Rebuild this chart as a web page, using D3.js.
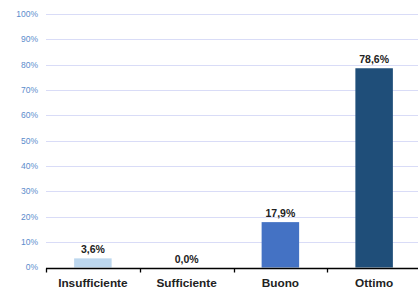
<!DOCTYPE html>
<html>
<head>
<meta charset="utf-8">
<script src="https://cdn.jsdelivr.net/npm/d3@7"></script>
<style>
  body { margin: 0; background: #fff; }
  svg { display: block; font-family: "Liberation Sans", Arial, sans-serif; }
</style>
</head>
<body>
<div class="container"></div>
<script>
let categories = ['Insufficiente', 'Sufficiente', 'Buono', 'Ottimo'];
let values = [3.6, 0.0, 17.9, 78.6];
let barColors = ['#bdd7ee', '#bdd7ee', '#4472c4', '#1f4e79'];
let yTicks = [0, 10, 20, 30, 40, 50, 60, 70, 80, 90, 100];

let margin = { top: 14, right: 0, bottom: 21, left: 46 };
let width = 421 - margin.left - margin.right;
let height = 289 - margin.top - margin.bottom;

let svg = d3
  .select('.container')
  .append('svg')
  .attr('width', 418)
  .attr('height', 289)
  .append('g')
  .attr('transform', 'translate(' + margin.left + ',' + margin.top + ')');

let xScale = d3.scaleBand().domain(categories).range([0, width]).paddingInner(0.6).paddingOuter(0.3);
let yScale = d3.scaleLinear().domain([0, 100]).range([height - 0.5, 0]);

// gridlines
svg
  .append('g')
  .selectAll('line')
  .data(yTicks.slice(1))
  .enter()
  .append('line')
  .attr('x1', 0)
  .attr('x2', width)
  .attr('y1', (d) => Math.round(yScale(d)) + 0.5)
  .attr('y2', (d) => Math.round(yScale(d)) + 0.5)
  .attr('stroke', '#d9dcf7')
  .attr('stroke-width', 1.2);

// y labels
svg
  .append('g')
  .selectAll('text')
  .data(yTicks)
  .enter()
  .append('text')
  .attr('x', -8)
  .attr('y', (d) => yScale(d))
  .attr('dy', '0.35em')
  .attr('text-anchor', 'end')
  .attr('font-size', 8.5)
  .attr('fill', '#5b8ccc')
  .text((d) => d + '%');

// bars
svg
  .append('g')
  .selectAll('rect')
  .data(values)
  .enter()
  .append('rect')
  .attr('x', (d, i) => xScale(categories[i]))
  .attr('y', (d) => yScale(d))
  .attr('width', xScale.bandwidth())
  .attr('height', (d) => yScale(0) - yScale(d))
  .attr('fill', (d, i) => barColors[i]);

// value labels
svg
  .append('g')
  .selectAll('text')
  .data(values)
  .enter()
  .append('text')
  .attr('x', (d, i) => xScale(categories[i]) + xScale.bandwidth() / 2)
  .attr('y', (d) => yScale(d) - 5)
  .attr('text-anchor', 'middle')
  .attr('font-size', 10.5)
  .attr('font-weight', 'bold')
  .attr('fill', '#222')
  .text((d) => d.toFixed(1).replace('.', ',') + '%');

// x axis
let axisG = svg.append('g').attr('transform', 'translate(0,' + (Math.round(yScale(0)) + 0.5) + ')');
axisG.append('line').attr('x1', 0).attr('x2', width).attr('stroke', '#000').attr('stroke-width', 1.3);
axisG
  .selectAll('.tick')
  .data(d3.range(categories.length + 1))
  .enter()
  .append('line')
  .attr('x1', (d) => Math.round(d * width / categories.length) + 0.5)
  .attr('x2', (d) => Math.round(d * width / categories.length) + 0.5)
  .attr('y1', 0)
  .attr('y2', 4)
  .attr('stroke', '#000')
  .attr('stroke-width', 1.3);

axisG
  .selectAll('.cat')
  .data(categories)
  .enter()
  .append('text')
  .attr('x', (d) => xScale(d) + xScale.bandwidth() / 2)
  .attr('y', 18.5)
  .attr('text-anchor', 'middle')
  .attr('font-size', 11.8)
  .attr('font-weight', 'bold')
  .attr('fill', '#222')
  .text((d) => d);
</script>
</body>
</html>
